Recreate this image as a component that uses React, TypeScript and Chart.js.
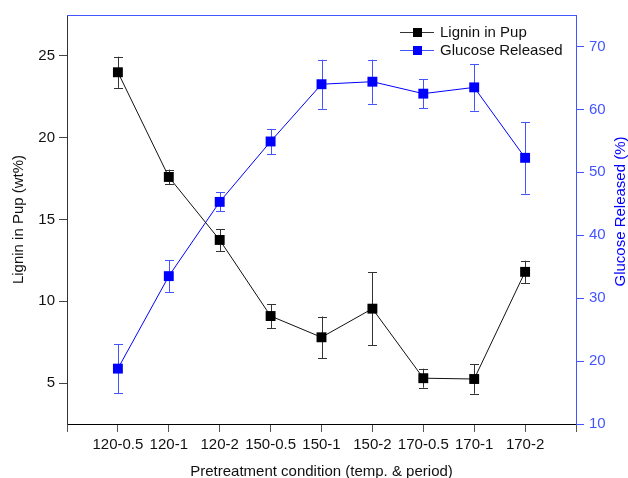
import React, { useEffect, useRef } from "react";
import { Chart, registerables } from "chart.js";

Chart.register(...registerables);

const categories = ["120-0.5", "120-1", "120-2", "150-0.5", "150-1", "150-2", "170-0.5", "170-1", "170-2"];
const ligninValues = [24.0, 17.6, 13.75, 9.1, 7.8, 9.55, 5.3, 5.25, 11.8];
const ligninErrors = [0.95, 0.45, 0.67, 0.73, 1.27, 2.23, 0.58, 0.9, 0.68];
const glucoseValues = [18.8, 33.5, 45.3, 54.9, 64.0, 64.4, 62.5, 63.5, 52.3];
const glucoseErrors = [3.9, 2.5, 1.5, 2.0, 3.9, 3.5, 2.3, 3.7, 5.7];
const leftTicks = [5, 10, 15, 20, 25];
const rightTicks = [10, 20, 30, 40, 50, 60, 70];
const xTicks = [0, 1, 2, 3, 4, 5, 6, 7, 8, 9, 10];
const rightTitle = "Glucose Released (%)";

const FONT = "Arial, 'Liberation Sans', sans-serif";
const AXIS_BLUE = "#4455ff";
const DATA_BLUE = "#0000ff";

const errorBarPlugin = {
  id: "errorBars",
  beforeDatasetsDraw(chart: any) {
    const ctx = chart.ctx;
    const xs = chart.scales.x;
    chart.data.datasets.forEach((ds: any) => {
      const ys = chart.scales[ds.yAxisID];
      ctx.save();
      ctx.strokeStyle = ds.errorColor;
      ctx.lineWidth = 1;
      ds.data.forEach((pt: any, i: number) => {
        const e = ds.errors[i];
        const px = Math.round(xs.getPixelForValue(pt.x)) + 0.5;
        const top = ys.getPixelForValue(pt.y + e);
        const bot = ys.getPixelForValue(pt.y - e);
        ctx.beginPath();
        ctx.moveTo(px, top);
        ctx.lineTo(px, bot);
        ctx.moveTo(px - 4.5, Math.round(top) + 0.5);
        ctx.lineTo(px + 4.5, Math.round(top) + 0.5);
        ctx.moveTo(px - 4.5, Math.round(bot) + 0.5);
        ctx.lineTo(px + 4.5, Math.round(bot) + 0.5);
        ctx.stroke();
      });
      ctx.restore();
    });
  },
};

const framePlugin = {
  id: "frameAndLegend",
  afterDraw(chart: any) {
    const ctx = chart.ctx;
    const a = chart.chartArea;
    ctx.save();
    ctx.strokeStyle = AXIS_BLUE;
    ctx.lineWidth = 1;
    ctx.beginPath();
    ctx.moveTo(a.left, a.top + 0.5);
    ctx.lineTo(a.right, a.top + 0.5);
    ctx.stroke();

    // right axis title (reads bottom to top)
    ctx.save();
    ctx.translate(621, (a.top + a.bottom) / 2 - 8);
    ctx.rotate(-Math.PI / 2);
    ctx.fillStyle = DATA_BLUE;
    ctx.font = `15px ${FONT}`;
    ctx.textAlign = "center";
    ctx.textBaseline = "middle";
    ctx.fillText(rightTitle, 0, 0);
    ctx.restore();

    // legend
    const lx = 400;
    const rows = [32, 50];
    chart.data.datasets.forEach((ds: any, i: number) => {
      const y = rows[i];
      ctx.strokeStyle = ds.legendLine;
      ctx.beginPath();
      ctx.moveTo(lx, y + 0.5);
      ctx.lineTo(lx + 34, y + 0.5);
      ctx.stroke();
      ctx.fillStyle = ds.backgroundColor;
      ctx.fillRect(lx + 13, y - 4, 9, 9);
      ctx.fillStyle = "#111";
      ctx.font = `15px ${FONT}`;
      ctx.textBaseline = "middle";
      ctx.textAlign = "left";
      ctx.fillText(ds.label, lx + 40, y + 1);
    });
    ctx.restore();
  },
};

export default function App() {
  const ref = useRef<HTMLCanvasElement>(null);
  useEffect(() => {
    if (!ref.current) return;
    const chart = new Chart(ref.current, {
      type: "line",
      data: {
        datasets: [
          {
            label: "Lignin in Pup",
            data: ligninValues.map((v, i) => ({ x: i + 1, y: v })),
            yAxisID: "y",
            borderColor: "#111",
            backgroundColor: "#000",
            borderWidth: 1,
            pointStyle: "rect",
            pointRadius: 7,
            pointBorderWidth: 0,
            errors: ligninErrors,
            errorColor: "#333",
            legendLine: "#333",
          } as any,
          {
            label: "Glucose Released",
            data: glucoseValues.map((v, i) => ({ x: i + 1, y: v })),
            yAxisID: "y1",
            borderColor: DATA_BLUE,
            backgroundColor: DATA_BLUE,
            borderWidth: 1,
            pointStyle: "rect",
            pointRadius: 7,
            pointBorderWidth: 0,
            errors: glucoseErrors,
            errorColor: "#4455ff",
            legendLine: AXIS_BLUE,
          } as any,
        ],
      },
      options: {
        responsive: false,
        animation: false,
        layout: { padding: { top: 15, left: 0, right: 0, bottom: 0 }, autoPadding: false },
        plugins: { legend: { display: false }, tooltip: { enabled: false } },
        scales: {
          x: {
            type: "linear",
            min: 0,
            max: 10,
            afterBuildTicks: (s: any) => {
              s.ticks = xTicks.map((v) => ({ value: v }));
            },
            afterFit: (s: any) => {
              s.height = 54;
            },
            ticks: {
              autoSkip: false,
              maxRotation: 0,
              padding: 4,
              color: "#111",
              font: { family: FONT, size: 15 },
              callback: (v: any) => categories[Number(v) - 1] ?? "",
            },
            grid: { display: true, drawOnChartArea: false, tickLength: 8, color: "#555" },
            border: { display: true, color: "#000", width: 1 },
            title: {
              display: true,
              text: "Pretreatment condition (temp. & period)",
              color: "#111",
              font: { family: FONT, size: 15 },
              padding: { top: 0, bottom: -3 },
            },
          },
          y: {
            type: "linear",
            position: "left",
            min: 2.5,
            max: 27.5,
            afterBuildTicks: (s: any) => {
              s.ticks = leftTicks.map((v) => ({ value: v }));
            },
            afterFit: (s: any) => {
              s.width = 67;
            },
            ticks: { padding: 4, color: "#111", font: { family: FONT, size: 15 } },
            grid: { display: true, drawOnChartArea: false, tickLength: 8, color: "#444" },
            border: { display: true, color: "#333", width: 1 },
            title: {
              display: true,
              text: "Lignin in Pup (wt%)",
              color: "#111",
              font: { family: FONT, size: 15 },
              padding: { top: 10, bottom: 0 },
            },
          },
          y1: {
            type: "linear",
            position: "right",
            min: 10,
            max: 75,
            afterBuildTicks: (s: any) => {
              s.ticks = rightTicks.map((v) => ({ value: v }));
            },
            afterFit: (s: any) => {
              s.width = 52;
            },
            ticks: { padding: 5, color: AXIS_BLUE, font: { family: FONT, size: 15 } },
            grid: { display: true, drawOnChartArea: false, tickLength: 8, color: AXIS_BLUE },
            border: { display: true, color: AXIS_BLUE, width: 1 },
            title: { display: false },
          },
        },
      } as any,
      plugins: [errorBarPlugin, framePlugin],
    });
    return () => chart.destroy();
  }, []);
  return (
    <div style={{ position: "fixed", left: 0, top: 0, width: 628, height: 478, background: "#fff" }}>
      <canvas ref={ref} width={628} height={478} style={{ width: 628, height: 478, display: "block" }} />
    </div>
  );
}
